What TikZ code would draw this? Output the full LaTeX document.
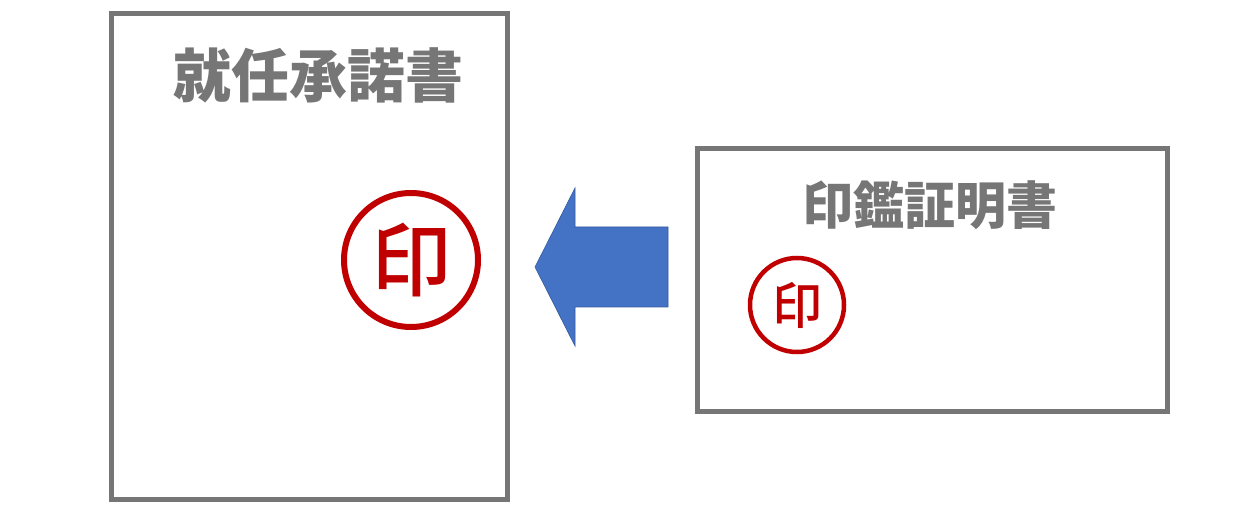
\documentclass[tikz,border=0pt]{standalone}
\usepackage{fontspec}
\setmainfont{Noto Sans CJK JP}
\newfontfamily\sealfont{Noto Sans CJK JP}[UprightFont=* Medium]
\usepackage{tikz}
\usetikzlibrary{positioning}
\definecolor{docgray}{RGB}{118,118,118}
\definecolor{sealred}{RGB}{192,0,0}
\definecolor{arrowblue}{RGB}{68,114,196}
\tikzset{
    doc/.style={draw=docgray, line width=5pt},
    title/.style={text=docgray, font=\bfseries\fontsize{58}{62}\selectfont},
    seal/.style={circle, draw=sealred, text=sealred, inner sep=0pt},
}
\begin{document}
\begin{tikzpicture}[x=1pt, y=-1pt]
    \useasboundingbox (0,0) rectangle (1257,518);

    % Documents
    \draw[doc] (111,14) rectangle (507,499);
    \draw[doc] (697,149) rectangle (1167,411);
    \node[title] (shunin) at (318,75) {就任承諾書};
    \node[title, font=\bfseries\fontsize{51}{55}\selectfont] (inkan) at (930,205) {印鑑証明書};

    % Seals
    \node[seal, line width=6pt, minimum size=134pt, font=\sealfont\fontsize{80}{84}\selectfont] (bigseal) at (411,260) {印};
    \node[seal, line width=4.5pt, minimum size=94pt, font=\sealfont\fontsize{50}{54}\selectfont] (smallseal) at (797,305) {印};

    % Arrow
    \fill[arrowblue, draw=arrowblue!80!black, line width=0.6pt]
        (535,267) -- (575,188) -- (575,227) -- (668,227) -- (668,307) -- (575,307) -- (575,346) -- cycle;
\end{tikzpicture}
\end{document}
